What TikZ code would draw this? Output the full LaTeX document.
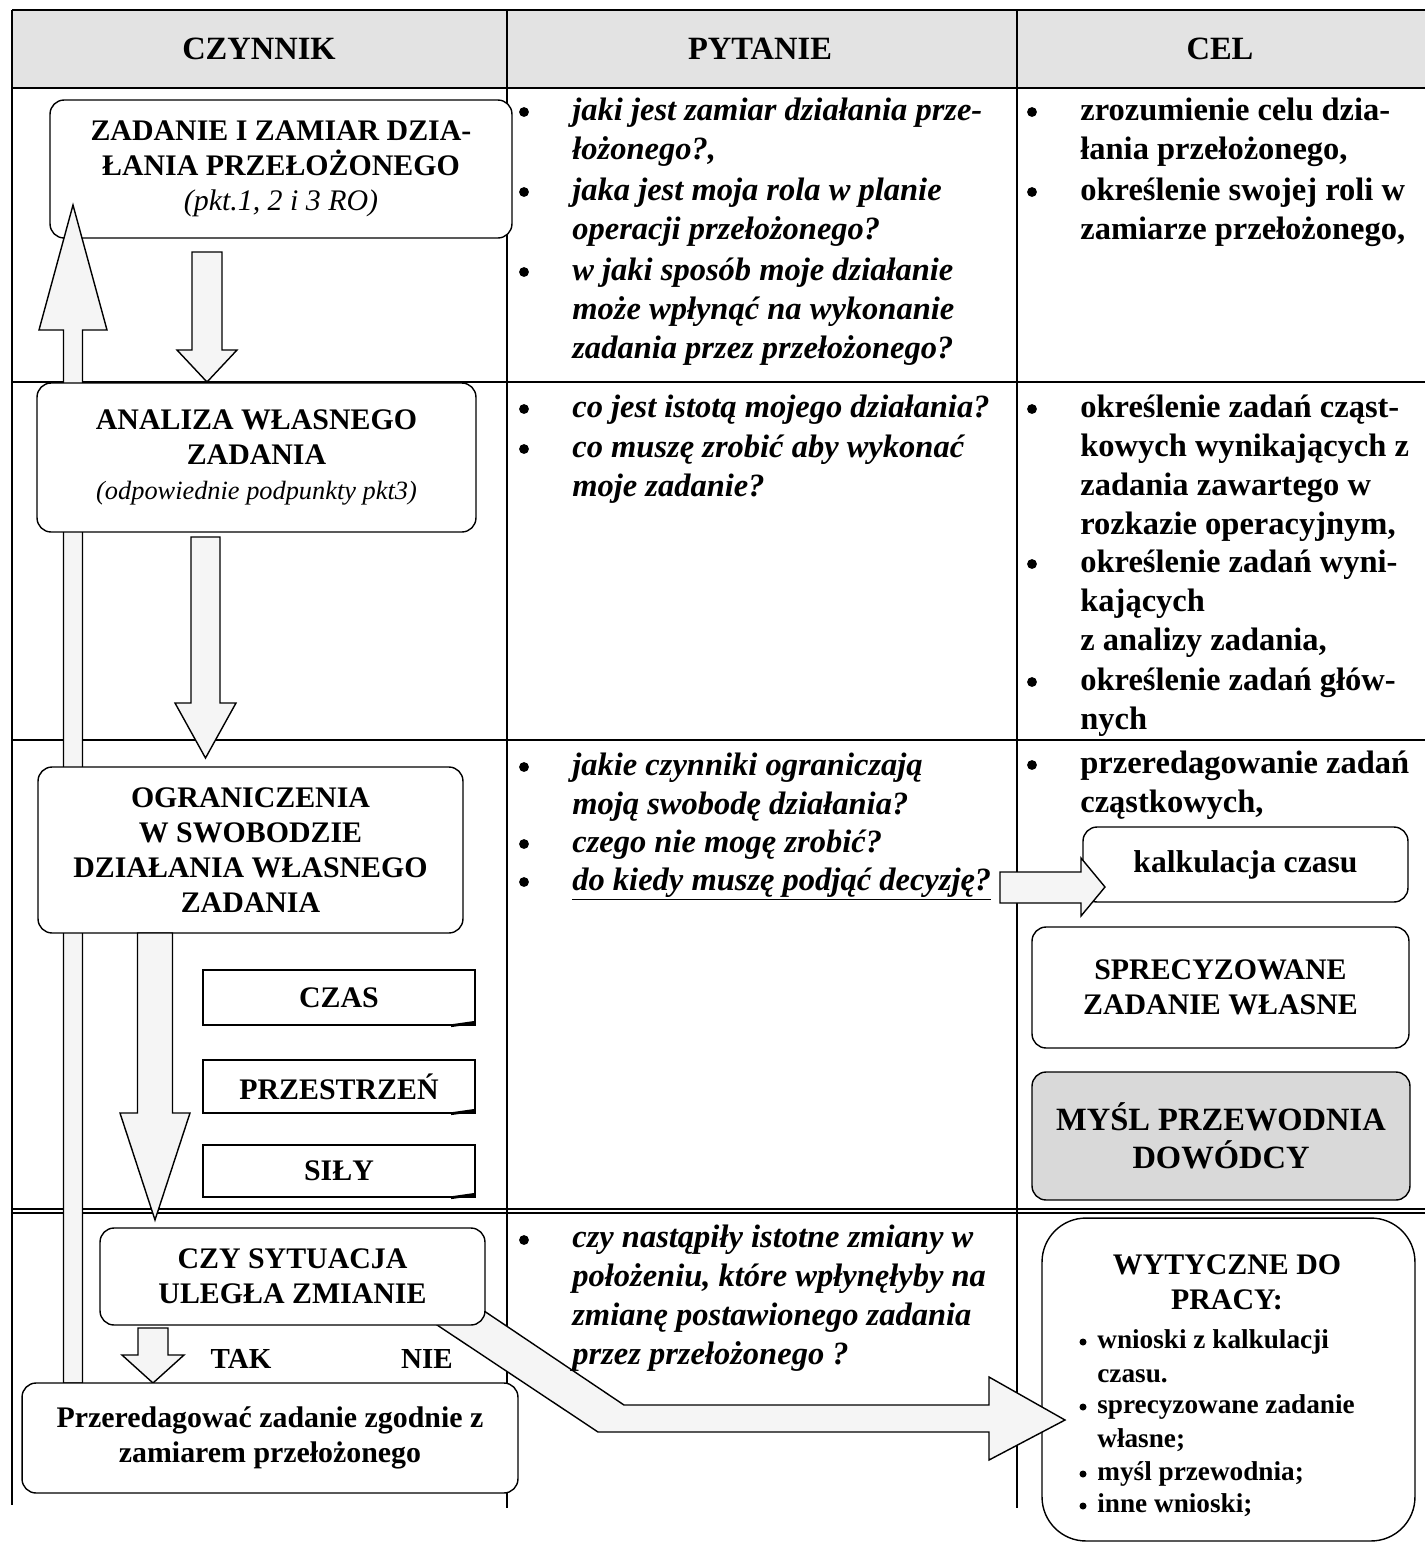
\documentclass[tikz,border=0pt]{standalone}
\usepackage{fontspec}
\setmainfont{Liberation Serif}
\usetikzlibrary{positioning}

\newcommand{\colsize}{\fontsize{18.5}{22.2}\selectfont}
\newcommand{\boxsize}{\fontsize{17}{19.8}\selectfont}
% vertical block arrow: x, start, head base, tip, shaft half width, head half width
\newcommand{\blockv}[6]{%
  \draw[blockarrow] (#1-#5,#2) -- (#1+#5,#2) -- (#1+#5,#3) -- (#1+#6,#3)
    -- (#1,#4) -- (#1-#6,#3) -- (#1-#5,#3) -- cycle;}

\tikzset{
  tabline/.style={line width=0.8pt},
  blockarrow/.style={draw, line width=0.8pt, fill=gray!8},
  stepbox/.style={draw, line width=0.8pt, rounded corners=8pt, fill=white,
    align=center, inner sep=0pt, font=\boxsize\bfseries},
  tabbox/.style={draw, line width=0.8pt, fill=white, inner sep=0pt,
    minimum width=5.44cm, font=\boxsize\bfseries},
  headtext/.style={font=\fontsize{18.5}{22}\selectfont\bfseries},
  question/.style={anchor=base west, align=left, inner sep=0pt,
    font=\colsize\bfseries\itshape},
  goal/.style={anchor=base west, align=left, inner sep=0pt,
    font=\colsize\bfseries},
  wytext/.style={anchor=base west, align=left, inner sep=0pt,
    font=\fontsize{15.5}{19.3}\selectfont\bfseries}
}

\begin{document}
\begin{tikzpicture}[x=0.02cm, y=-0.02cm]
\useasboundingbox (0,0) rectangle (1425,1543);
% table
\fill[gray!22] (12,10) rectangle (1425,88);
\draw[tabline] (12,10) -- (1425,10);
\draw[tabline] (12,88) -- (1425,88);
\draw[tabline] (12,382) -- (1425,382);
\draw[tabline] (12,740) -- (1425,740);
\draw[tabline] (12,1209) -- (1425,1209);
\draw[tabline] (12,1213) -- (1425,1213);
\draw[tabline] (12,10) -- (12,1505);
\draw[tabline] (507,10) -- (507,1508);
\draw[tabline] (1017,10) -- (1017,1508);
\node[headtext] (h1) at (259,49) {CZYNNIK};
\node[headtext] (h2) at (760,49) {PYTANIE};
\node[headtext] (h3) at (1220,49) {CEL};

% CZYNNIK column
\node[stepbox, minimum width=9.24cm, minimum height=2.76cm] (zad) at (281,169)
  {ZADANIE I ZAMIAR DZIA-\\ŁANIA PRZEŁOŻONEGO\\{\mdseries\itshape (pkt.1, 2 i 3 RO)}};
\blockv{73}{1383}{330}{205}{9.5}{34}
\blockv{207}{252}{350}{382}{15}{30}
\node[stepbox, minimum width=8.78cm, minimum height=2.98cm] (ana) at (256.5,457.5)
  {ANALIZA WŁASNEGO\\ZADANIA\\{\fontsize{15}{19.8}\selectfont\mdseries\itshape (odpowiednie podpunkty pkt3)}};
\blockv{205.5}{537}{703}{758}{14.5}{30.5}
\node[stepbox, minimum width=8.5cm, minimum height=3.32cm] (ogr) at (250.5,850)
  {OGRANICZENIA\\W SWOBODZIE\\DZIAŁANIA WŁASNEGO\\ZADANIA};
\blockv{155}{933}{1113}{1220}{17.5}{35}
\node[tabbox, minimum height=1.10cm] (czas) at (339,997.5) {CZAS};
\node[tabbox, minimum height=1.06cm] (przes) at (339,1086.5) {PRZESTRZEŃ};
\node[tabbox, minimum height=1.04cm] (sily) at (339,1171) {SIŁY};
\draw[line width=1.6pt] ([xshift=-14pt]czas.south east) -- ([yshift=2pt]czas.south east);
\draw[line width=1.6pt] ([xshift=-14pt]przes.south east) -- ([yshift=2pt]przes.south east);
\draw[line width=1.6pt] ([xshift=-14pt]sily.south east) -- ([yshift=2pt]sily.south east);

% CEL column, bottom box
\node[draw, line width=0.8pt, rounded corners=25pt, fill=white,
  minimum width=7.46cm, minimum height=6.46cm] (wyt) at (1228.5,1379.5) {};
\node[anchor=base, align=center, inner sep=0pt,
  font=\boxsize\bfseries] (wyttitle) at (1227,1309) {WYTYCZNE DO\\PRACY:};
\node[wytext] (w1) at (1097,1382) {wnioski z kalkulacji\\czasu.};
\node[wytext] (w2) at (1097,1447) {sprecyzowane zadanie\\własne;};
\node[wytext] (w3) at (1097,1480) {myśl przewodnia;};
\node[wytext] (w4) at (1097,1512) {inne wnioski;};
\fill (1083,1342) circle (2pt);
\fill (1083,1407) circle (2pt);
\fill (1083,1474) circle (2pt);
\fill (1083,1506) circle (2pt);

% NIE arrow
\draw[blockarrow] (447,1286) -- (624,1405) -- (989,1405) -- (989,1377) -- (1065,1420)
  -- (989,1460) -- (989,1432) -- (598,1432) -- (404,1303) -- cycle;
\node[stepbox, minimum width=7.7cm, minimum height=1.94cm] (czy) at (292.5,1276.5)
  {CZY SYTUACJA\\ULEGŁA ZMIANIE};
\blockv{153}{1328}{1355}{1383}{15}{31}
\node[stepbox, minimum width=9.92cm, minimum height=2.2cm] (red) at (270,1438)
  {Przeredagować zadanie zgodnie z\\zamiarem przełożonego};
\node[anchor=base, font=\fontsize{16.5}{19}\selectfont\bfseries] (tak) at (241,1368) {TAK};
\node[anchor=base, font=\fontsize{16.5}{19}\selectfont\bfseries] (nie) at (427,1368) {NIE};

% PYTANIE column (node base = last line)
\node[question] (q1a) at (572,159) {jaki jest zamiar działania prze-\\łożonego?,};
\node[question] (q1b) at (572,239) {jaka jest moja rola w planie\\operacji przełożonego?};
\node[question] (q1c) at (572,358) {w jaki sposób moje działanie\\może wpłynąć na wykonanie\\zadania przez przełożonego?};
\node[question] (q2a) at (572,417) {co jest istotą mojego działania?};
\node[question] (q2b) at (572,496) {co muszę zrobić aby wykonać\\moje zadanie?};
\node[question] (q3a) at (572,814) {jakie czynniki ograniczają\\moją swobodę działania?};
\node[question] (q3b) at (572,852) {czego nie mogę zrobić?};
\node[question] (q3c) at (572,890) {\underline{do kiedy muszę podjąć decyzję?}};
\node[question] (q4a) at (572,1364) {czy nastąpiły istotne zmiany w\\położeniu, które wpłynęłyby na\\zmianę postawionego zadania\\przez przełożonego ?};
\fill (524,112) circle (2.8pt);
\fill (524,192) circle (2.8pt);
\fill (524,272) circle (2.8pt);
\fill (524,409) circle (2.8pt);
\fill (524,449) circle (2.8pt);
\fill (524,767) circle (2.8pt);
\fill (524,844) circle (2.8pt);
\fill (524,882) circle (2.8pt);
\fill (524,1240) circle (2.8pt);

% CEL column
\node[goal] (g1a) at (1080,159) {zrozumienie celu dzia-\\łania przełożonego,};
\node[goal] (g1b) at (1080,239) {określenie swojej roli w\\zamiarze przełożonego,};
\node[goal] (g2a) at (1080,534) {określenie zadań cząst-\\kowych wynikających z\\zadania zawartego w\\rozkazie operacyjnym,};
\node[goal] (g2b) at (1080,650) {określenie zadań wyni-\\kających\\z analizy zadania,};
\node[goal] (g2c) at (1080,729) {określenie zadań głów-\\nych};
\node[goal] (g3a) at (1080,812) {przeredagowanie zadań\\cząstkowych,};
\fill (1032,112) circle (2.8pt);
\fill (1032,192) circle (2.8pt);
\fill (1032,409) circle (2.8pt);
\fill (1032,564) circle (2.8pt);
\fill (1032,682) circle (2.8pt);
\fill (1032,765) circle (2.8pt);
\node[stepbox, minimum width=6.5cm, minimum height=1.5cm,
  font=\fontsize{18}{21}\selectfont\bfseries] (kal) at (1245.5,864.5) {kalkulacja czasu};
\draw[blockarrow] (1000,872) -- (1081,872) -- (1081,858) -- (1105,887) -- (1081,916)
  -- (1081,903) -- (1000,903) -- cycle;
\node[stepbox, minimum width=7.54cm, minimum height=2.42cm] (spr) at (1220.5,987.5)
  {SPRECYZOWANE\\ZADANIE WŁASNE};
\node[stepbox, fill=gray!30, minimum width=7.56cm, minimum height=2.56cm,
  font=\fontsize{18.5}{21.5}\selectfont\bfseries] (mysl) at (1221,1136)
  {MYŚL PRZEWODNIA\\DOWÓDCY};
\end{tikzpicture}
\end{document}
